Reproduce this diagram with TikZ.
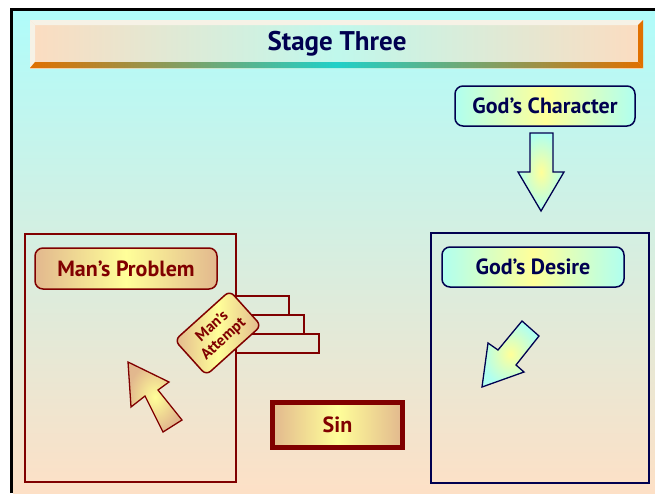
\documentclass[tikz,border=0pt]{standalone}
\usepackage{fontspec}
\setmainfont{PT Sans}
\usetikzlibrary{shadings}

\definecolor{maroon}{HTML}{800000}
\definecolor{navyink}{HTML}{000050}
\definecolor{tan}{HTML}{E2B88E}
\definecolor{paleyellow}{HTML}{FFFF99}
\definecolor{aqua}{HTML}{B0FFF0}
\definecolor{skytop}{HTML}{B0FCFA}
\definecolor{peachbottom}{HTML}{FDE0C6}
\definecolor{barpeach}{HTML}{FCDCC0}
\definecolor{barmint}{HTML}{C0F8EC}
\definecolor{bevelorange}{HTML}{E07000}
\definecolor{bevelteal}{HTML}{20D0C8}
\definecolor{bevellight}{HTML}{F6F2E6}

\tikzset{
  frame/.style={line width=1.8pt},
  labelfont/.style={font=\fontsize{22}{26}\selectfont\bfseries},
  redlabel/.style={draw=maroon, line width=1.5pt, rounded corners=8pt,
    left color=tan, right color=tan, middle color=paleyellow,
    text=maroon, labelfont, inner sep=0pt},
  bluelabel/.style={draw=navyink, line width=1.5pt, rounded corners=8pt,
    left color=aqua, right color=aqua, middle color=paleyellow,
    text=navyink, labelfont, inner sep=0pt},
  redarrow/.style={draw=maroon, line width=1.3pt, line join=miter,
    inner color=paleyellow, outer color=tan},
  bluearrow/.style={draw=navyink, line width=1.3pt, line join=miter,
    inner color=paleyellow, outer color=aqua},
  stair/.style={draw=maroon, line width=1.6pt},
}

\begin{document}
\begin{tikzpicture}[x=1pt,y=-1pt]
\useasboundingbox (0,0) rectangle (655,493);

% page background and black frame
\fill[white] (0,0) rectangle (655,493);
\shade[top color=skytop, bottom color=peachbottom] (13,11) rectangle (655,493);
\draw[line width=3pt] (11.5,493) -- (11.5,9.5) -- (655,9.5);

% title bar with bevelled edges
\shade[left color=barpeach, right color=barpeach, middle color=barmint]
  (30,20) rectangle (643,68);
\fill[bevellight] (30,20) -- (643,20) -- (638,25) -- (35,25) -- cycle;
\fill[bevellight] (30,20) -- (35,25) -- (35,62) -- (30,68) -- cycle;
\shade[left color=bevelorange, right color=bevelorange, middle color=bevelteal]
  (30,68) -- (643,68) -- (638,62) -- (35,62) -- cycle;
\fill[bevelorange] (643,20) -- (643,68) -- (638,62) -- (638,25) -- cycle;
\node (title) at (337,44) [text=navyink, font=\fontsize{27}{31}\selectfont\bfseries]
  {Stage Three};

% left panel: man's side
\draw[frame, draw=maroon] (25,234) rectangle (236,482);
\node (problem) at (126,268.5) [redlabel, minimum width=182pt, minimum height=41pt]
  {Man’s Problem};

% stair steps
\draw[stair] (236,296) rectangle (289,315);
\draw[stair] (236,315) rectangle (304,334);
\draw[stair] (236,334) rectangle (319,353);

\node (attempt) at (218,333) [redlabel, rotate=42, rounded corners=6pt,
  minimum width=74pt, minimum height=47pt, align=center,
  font=\fontsize{15.5}{17}\selectfont\bfseries]
  {Man’s\\Attempt};

% arrow pointing up-left
\path[redarrow] (128,362) -- (169,382) -- (158,390) -- (182,420)
  -- (163,432) -- (145,396) -- (131,407) -- cycle;

% sin block
\node (sin) at (337.5,425) [draw=maroon, line width=5pt,
  left color=tan, right color=tan, middle color=paleyellow,
  minimum width=130pt, minimum height=45pt, inner sep=0pt,
  text=maroon, labelfont] {Sin};

% right panel: God's side
\node (character) at (545,106) [bluelabel, minimum width=180pt, minimum height=40pt]
  {God’s Character};

\path[bluearrow] (530,133) -- (553,133) -- (553,172) -- (564,172)
  -- (541,211) -- (518,172) -- (530,172) -- cycle;

\draw[frame, draw=navyink, line width=1.5pt] (431,233) rectangle (649,483);
\node (desire) at (533,267) [bluelabel, minimum width=182pt, minimum height=40pt]
  {God’s Desire};

% arrow pointing down-left
\path[bluearrow] (482,387) -- (488,343) -- (498,350) -- (522,321)
  -- (539,336) -- (516,365) -- (524,372) -- cycle;
\end{tikzpicture}
\end{document}
